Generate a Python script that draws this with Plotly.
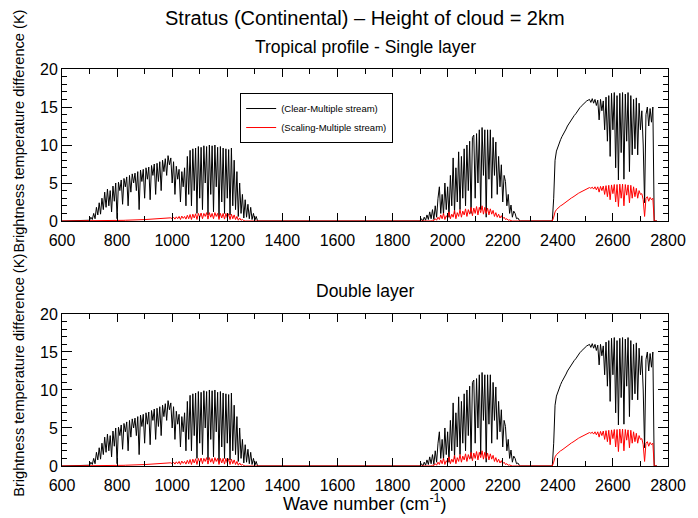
import plotly.graph_objects as go

# ---------------- data ----------------
STEP = 5  # wavenumber sampling of the value lists below (cm-1)

# Clear - Multiple stream (black), window band 1, starts at 700 cm-1
clear_b1_start = 700
clear_b1 = [
    0.1, 0.5, 0.2, 1.0, 0.3, 1.8, 0.8, 2.4, 0.9, 3.0,
    1.5, 3.8, 1.8, 4.2, 2.0, 4.0, 1.2, 4.6, 2.6, 5.0,
    0.3, 5.1, 4.0, 5.4, 2.2, 5.6, 4.5, 5.8, 2.0, 6.0,
    3.8, 6.2, 5.0, 6.3, 4.0, 6.5, 1.5, 6.7, 5.2, 6.8,
    3.0, 7.0, 5.5, 7.1, 2.8, 7.3, 6.0, 7.5, 3.5, 7.6,
    5.2, 7.8, 4.0, 8.0, 6.5, 8.2, 6.0, 8.6, 7.4, 8.3,
    5.0, 7.8, 3.5, 7.2, 5.5, 6.8, 2.5, 6.5, 4.5, 7.0,
    2.0, 8.5, 3.5, 9.3, 2.0, 9.5, 4.0, 9.6, 1.0, 9.8,
    3.0, 9.7, 1.5, 9.9, 5.0, 9.8, 0.8, 10.0, 3.5, 9.9,
    1.2, 10.0, 4.5, 9.7, 0.5, 9.8, 2.5, 9.6, 1.0, 9.5,
    3.0, 9.4, 0.8, 9.6, 2.0, 8.0, 1.5, 6.5, 0.6, 5.0,
    1.0, 3.5, 0.4, 2.8, 0.5, 2.2, 0.3, 1.8, 0.2, 1.0,
    0.1, 0.6, 0.0, 0.0,
]

# Clear - Multiple stream (black), band 2, starts at 1900 cm-1
clear_b2_start = 1900
clear_b2 = [
    0.0, 0.3, 0.0, 0.5, 0.1, 0.8, 0.2, 1.2, 0.3, 1.5,
    0.2, 2.0, 0.5, 3.0, 4.5, 1.0, 3.5, 0.8, 5.0, 1.5,
    4.5, 0.5, 6.0, 2.0, 8.3, 1.0, 7.0, 2.5, 9.1, 1.5,
    8.5, 3.0, 9.5, 2.0, 10.0, 4.0, 10.5, 1.0, 11.0, 11.3,
    3.0, 11.5, 5.0, 12.0, 1.5, 12.3, 6.0, 12.0, 0.5, 12.0,
    5.5, 12.0, 3.0, 11.0, 6.0, 10.4, 3.5, 8.5, 4.5, 7.4,
    2.5, 6.0, 5.2, 2.0, 3.5, 1.0, 2.1, 0.5, 1.3, 1.0,
    0.3, 0.4, 0.1, 0.0,
]

# Clear - Multiple stream (black), band 3, starts at 2375 cm-1
clear_b3_start = 2375
clear_b3 = [
    0.0, 0.0, 3.0, 8.0, 9.2, 9.8, 10.3, 10.7, 11.1, 11.4,
    11.8, 12.1, 12.5, 12.8, 13.1, 13.3, 13.6, 13.9, 14.1, 14.4,
    14.6, 14.9, 15.1, 15.3, 15.5, 15.6, 15.8, 15.9, 16.0, 15.6,
    16.1, 15.5, 16.0, 15.2, 15.9, 13.3, 16.0, 14.5, 15.8, 12.0,
    16.3, 10.5, 16.5, 8.5, 16.8, 12.0, 16.9, 7.0, 16.5, 5.4,
    16.8, 9.0, 16.9, 5.5, 16.7, 10.5, 16.9, 6.5, 16.5, 8.7,
    16.0, 9.5, 16.2, 8.7, 15.5, 12.0, 14.5, 10.0, 2.4, 14.0,
    15.0, 12.5, 14.8, 13.0, 15.0, 0.0,
]

# Scaling - Multiple stream (red), band 1, starts at 700 cm-1
scal_b1_start = 700
scal_b1 = [
    0.0, 0.0, 0.0, 0.01, 0.01, 0.02, 0.02, 0.02, 0.03, 0.03,
    0.03, 0.04, 0.04, 0.04, 0.05, 0.05, 0.05, 0.06, 0.06, 0.06,
    0.07, 0.07, 0.08, 0.08, 0.09, 0.09, 0.1, 0.1, 0.11, 0.11,
    0.12, 0.12, 0.13, 0.13, 0.14, 0.15, 0.15, 0.16, 0.17, 0.18,
    0.19, 0.2, 0.21, 0.22, 0.23, 0.24, 0.25, 0.26, 0.27, 0.28,
    0.29, 0.3, 0.31, 0.33, 0.34, 0.35, 0.3, 0.38, 0.36, 0.42,
    0.3, 0.5, 0.25, 0.55, 0.3, 0.6, 0.2, 0.65, 0.35, 0.6,
    0.25, 0.75, 0.3, 0.85, 0.2, 0.9, 0.4, 0.95, 0.2, 1.0,
    0.5, 1.05, 0.3, 1.0, 0.6, 1.1, 0.25, 1.1, 0.5, 1.0,
    0.3, 1.1, 0.6, 1.0, 0.2, 1.0, 0.4, 1.0, 0.25, 1.0,
    0.4, 0.95, 0.2, 0.9, 0.3, 0.8, 0.2, 0.6, 0.1, 0.4,
    0.1, 0.2, 0.05, 0.0,
]

# Scaling - Multiple stream (red), band 2, starts at 1940 cm-1
scal_b2_start = 1940
scal_b2 = [
    0.0, 0.1, 0.05, 0.3, 0.1, 0.5, 0.2, 0.8, 0.3, 1.0,
    0.2, 0.7, 0.4, 1.2, 0.3, 0.9, 0.5, 1.4, 0.3, 1.1,
    0.6, 1.5, 0.5, 1.3, 0.8, 1.6, 0.6, 1.5, 0.9, 1.8,
    0.7, 1.7, 1.0, 1.9, 0.8, 1.8, 1.1, 2.0, 0.9, 1.8,
    1.0, 1.7, 0.8, 1.6, 0.9, 1.4, 0.6, 1.1, 0.5, 0.9,
    0.4, 0.7, 0.3, 0.5, 0.2, 0.3, 0.1, 0.15, 0.05, 0.0,
]

# Scaling - Multiple stream (red), band 3, starts at 2375 cm-1
scal_b3_start = 2375
scal_b3 = [
    0.0, 0.0, 0.5, 1.2, 1.5, 1.7, 1.85, 2.0, 2.1, 2.25,
    2.4, 2.5, 2.65, 2.8, 2.9, 3.05, 3.15, 3.3, 3.4, 3.5,
    3.65, 3.75, 3.85, 4.0, 4.1, 4.15, 4.25, 4.3, 4.4, 4.3,
    4.45, 4.2, 4.5, 4.1, 4.5, 3.8, 4.55, 4.0, 4.6, 3.5,
    4.65, 3.2, 4.7, 2.8, 4.75, 3.6, 4.8, 2.5, 4.8, 1.9,
    4.85, 3.0, 4.85, 2.0, 4.8, 3.4, 4.75, 2.4, 4.7, 3.0,
    4.5, 3.2, 4.3, 3.0, 4.0, 3.5, 3.6, 2.8, 0.6, 3.0,
    3.2, 2.6, 3.1, 2.8, 3.0, 0.0,
]

# spectrum end points (zero outside the bands)
spectrum_start = 600
spectrum_end = 2760

x_ticks = [600, 800, 1000, 1200, 1400, 1600, 1800, 2000, 2200, 2400, 2600, 2800]
y_ticks = [0, 5, 10, 15, 20]

names = ["(Clear-Multiple stream)", "(Scaling-Multiple stream)"]

# ---------------- build series ----------------
def build(segments):
    xs, ys = [spectrum_start], [0.0]
    for start, vals in segments:
        for i, v in enumerate(vals):
            xs.append(start + STEP * i)
            ys.append(v)
    xs.append(spectrum_end)
    ys.append(0.0)
    return xs, ys

clear_x, clear_y = build([(clear_b1_start, clear_b1), (clear_b2_start, clear_b2), (clear_b3_start, clear_b3)])
scal_x, scal_y = build([(scal_b1_start, scal_b1), (scal_b2_start, scal_b2), (scal_b3_start, scal_b3)])

# The double-layer panel shows the same curves as the single-layer panel
panels = [("x", "y", True), ("x2", "y2", False)]

FONT = "Liberation Sans, Arial, Helvetica, sans-serif"

fig = go.Figure()
for xa, ya, show in panels:
    fig.add_trace(go.Scatter(x=clear_x, y=clear_y, mode="lines", name=names[0],
                             line=dict(color="black", width=1), xaxis=xa, yaxis=ya,
                             showlegend=show))
    fig.add_trace(go.Scatter(x=scal_x, y=scal_y, mode="lines", name=names[1],
                             line=dict(color="#ff0000", width=1), xaxis=xa, yaxis=ya,
                             showlegend=show))

xaxis_style = dict(
    range=[600, 2800], tickvals=x_ticks, ticks="inside", ticklen=8, tickcolor="black",
    showline=True, linecolor="black", linewidth=1, mirror="ticks", showgrid=False,
    zeroline=False, tickfont=dict(size=16, color="black", family=FONT),
    ticklabelstandoff=5,
    minor=dict(dtick=100, ticks="inside", ticklen=5, tickcolor="black", showgrid=False),
)
yaxis_style = dict(
    range=[0, 20], tickvals=y_ticks, ticks="inside", ticklen=10, tickcolor="black",
    showline=True, linecolor="black", linewidth=1, mirror="ticks", showgrid=False,
    zeroline=False, tickfont=dict(size=16, color="black", family=FONT),
    minor=dict(dtick=1, ticks="inside", ticklen=5, tickcolor="black", showgrid=False),
)

top_lo = 0.6171
bot_hi = 0.3829

# the page adds an 8 px body margin, so the figure is 8 px smaller than the window
fig.update_layout(
    width=690, height=510,
    margin=dict(l=54, r=21, t=61, b=52),
    paper_bgcolor="white", plot_bgcolor="white",
    font=dict(family=FONT, color="black"),
    xaxis=dict(**xaxis_style, domain=[0, 1], anchor="y"),
    yaxis=dict(**yaxis_style, domain=[top_lo, 1], anchor="x"),
    xaxis2=dict(**xaxis_style, domain=[0, 1], anchor="y2"),
    yaxis2=dict(**yaxis_style, domain=[0, bot_hi], anchor="x2"),
    legend=dict(x=0.294, y=0.9395, xanchor="left", yanchor="top",
                bordercolor="black", borderwidth=1, bgcolor="white",
                font=dict(size=9.5, family=FONT), tracegroupgap=0, itemwidth=30),
    showlegend=True,
)

ann = [
    dict(text="Stratus (Continental) \u2013 Height of cloud = 2km", x=0.5, y=1.128,
         font=dict(size=20), yanchor="middle"),
    dict(text="Tropical profile - Single layer", x=0.5, y=1.055, font=dict(size=17.5),
         yanchor="middle"),
    dict(text="Double layer", x=0.5, y=0.441, font=dict(size=17.5), yanchor="middle"),
    dict(text="Wave number (cm<sup>-1</sup>)", x=0.5, y=-0.058, font=dict(size=18),
         yanchor="top"),
    dict(text="Brightness temperature difference (K)", x=-0.0715, y=0.844,
         textangle=-90, font=dict(size=14.6), yanchor="middle"),
    dict(text="Brightness temperature difference (K)", x=-0.0715, y=0.229,
         textangle=-90, font=dict(size=14.6), yanchor="middle"),
]
for a in ann:
    fig.add_annotation(xref="paper", yref="paper", showarrow=False,
                       xanchor="center", **a)

fig.write_html("out.html")
